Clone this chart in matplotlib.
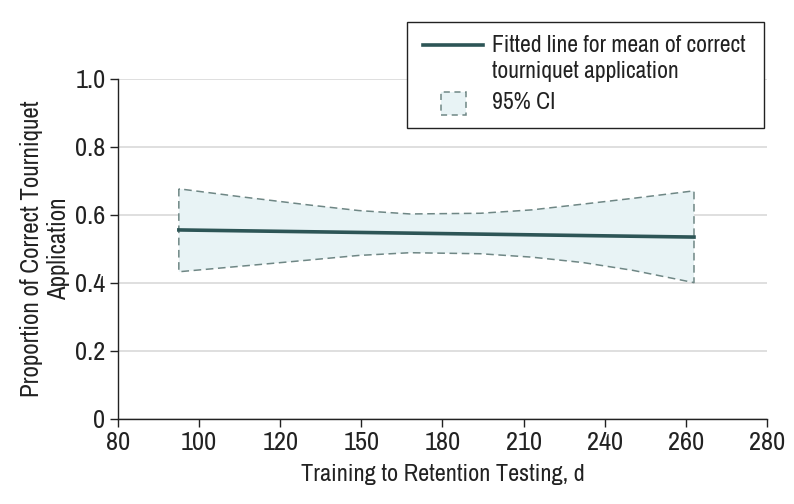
import numpy as np
import matplotlib
matplotlib.use('Agg')
import matplotlib.pyplot as plt
from matplotlib.patches import Rectangle
from matplotlib.lines import Line2D
from matplotlib import font_manager

# pick a narrow font if one is installed
names = sorted(set(f.name for f in font_manager.fontManager.ttflist))
narrow = [n for n in names if 'Narrow' in n or 'Condensed' in n]
plt.rcParams['font.family'] = (narrow[:1] or ['DejaVu Sans']) + ['DejaVu Sans']

# x axis ticks are evenly spaced although the values are not
xticks = [80, 100, 120, 150, 180, 210, 240, 260, 280]

# fitted line (days, proportion)
fit_days = [95, 262]
fit_vals = [0.556, 0.535]

# 95% CI band
ci_days = [95, 110, 130, 149, 168, 194, 213, 232, 247, 262]
ci_upper = [0.677, 0.654, 0.630, 0.613, 0.603, 0.605, 0.615, 0.632, 0.649, 0.671]
ci_lower = [0.433, 0.449, 0.467, 0.481, 0.489, 0.486, 0.476, 0.460, 0.437, 0.401]

line_col = '#2d5556'
fill_col = '#e8f3f5'
edge_col = '#6f8785'
txt_col = '#222222'

pos = np.arange(len(xticks))

def fwd(x):
    return np.interp(x, xticks, pos)

def inv(p):
    return np.interp(p, pos, xticks)

fig = plt.figure(figsize=(7.94, 5.04), dpi=100)
ax = fig.add_axes([0.1486, 0.1687, 0.8174, 0.6746])
ax.set_xscale('function', functions=(fwd, inv))

ax.fill_between(ci_days, ci_lower, ci_upper, facecolor=fill_col, edgecolor=edge_col,
                linestyle=(0, (5, 3)), linewidth=1.1, zorder=2)
ax.plot(fit_days, fit_vals, color=line_col, linewidth=2.6, zorder=3)

ax.set_xlim(80, 280)
ax.set_ylim(0, 1.0)
ax.set_xticks(xticks)
ax.set_xticklabels([str(t) for t in xticks])
ax.set_yticks([0, 0.2, 0.4, 0.6, 0.8, 1.0])
ax.set_yticklabels(['0', '0.2', '0.4', '0.6', '0.8', '1.0'])

for s in ['top', 'right']:
    ax.spines[s].set_visible(False)
for s in ['left', 'bottom']:
    ax.spines[s].set_color(txt_col)
    ax.spines[s].set_linewidth(1.0)
ax.tick_params(axis='both', labelsize=19, length=6, width=1.0, color=txt_col,
               labelcolor=txt_col)
ax.tick_params(axis='x', pad=3)
ax.tick_params(axis='y', pad=3)
ax.yaxis.grid(True, color='#d9d9d9', linewidth=1.2, zorder=0)
ax.set_axisbelow(True)

ax.set_xlabel('Training to Retention Testing, d', fontsize=17.5, color=txt_col, labelpad=7)
ax.set_ylabel('Proportion of Correct Tourniquet\nApplication', fontsize=18, color=txt_col,
              labelpad=4, linespacing=1.2)

# legend box drawn by hand in figure coords
W, H = 794.0, 504.0
def fx(px):
    return px / W
def fy(py):
    return 1 - py / H

fig.patches.append(Rectangle((fx(407), fy(128)), fx(764) - fx(407), fy(22) - fy(128),
                             transform=fig.transFigure, facecolor='white',
                             edgecolor=txt_col, linewidth=1.0, zorder=5))
fig.lines.append(Line2D([fx(423), fx(483)], [fy(45), fy(45)], transform=fig.transFigure,
                        color=line_col, linewidth=2.6, zorder=6))
fig.patches.append(Rectangle((fx(441), fy(115)), fx(466) - fx(441), fy(92) - fy(115),
                             transform=fig.transFigure, facecolor=fill_col,
                             edgecolor=edge_col, linestyle=(0, (4, 3)), linewidth=1.1,
                             zorder=6))
fig.text(fx(492), fy(45), 'Fitted line for mean of correct', fontsize=17,
         color=txt_col, va='center', ha='left', zorder=7)
fig.text(fx(492), fy(71), 'tourniquet application', fontsize=17,
         color=txt_col, va='center', ha='left', zorder=7)
fig.text(fx(492), fy(103), '95% CI', fontsize=17, color=txt_col, va='center', ha='left',
         zorder=7)

fig.savefig('out.png', dpi=100)
